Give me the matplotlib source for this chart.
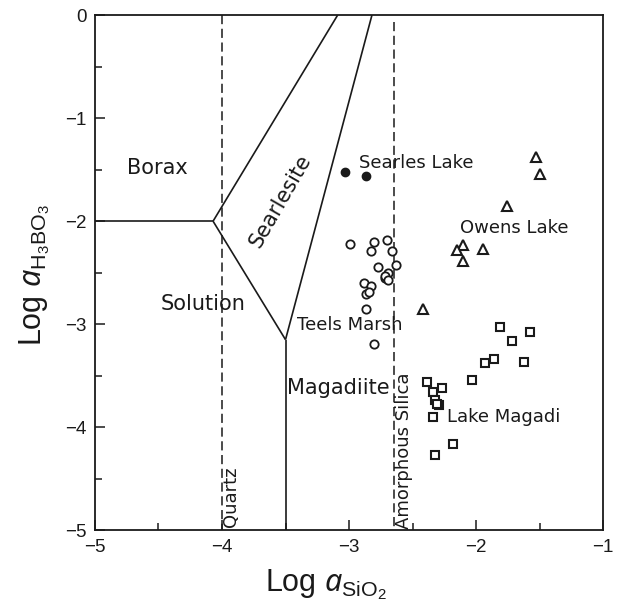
import matplotlib.pyplot as plt
from matplotlib.ticker import MultipleLocator

plt.rcParams['font.family'] = ['Liberation Sans', 'DejaVu Sans']
plt.rcParams['mathtext.fontset'] = 'custom'
plt.rcParams['mathtext.rm'] = 'Liberation Sans'
plt.rcParams['mathtext.it'] = 'Noto Sans:italic'

INK = '#1a1a1a'
LABEL_FONT = 'DejaVu Sans'

# --- phase boundaries (log aSiO2, log aH3BO3) ---
borax_x = [-5.0, -4.07]
borax_y = [-2.0, -2.0]
searl_left_x = [-4.07, -3.09]
searl_left_y = [-2.0, 0.0]
searl_right_x = [-2.82, -3.5]
searl_right_y = [0.0, -3.15]
sol_x = [-4.07, -3.5]
sol_y = [-2.0, -3.15]
magad_x = [-3.5, -3.5]
magad_y = [-3.15, -5.0]
quartz_x = -4.0
amorph_x = -2.65

# --- brine samples ---
searles_x = [-3.03, -2.87]
searles_y = [-1.52, -1.56]

teels_x = [-2.99, -2.80, -2.83, -2.70, -2.66, -2.63, -2.77, -2.69, -2.72,
           -2.72, -2.69, -2.88, -2.83, -2.87, -2.84, -2.87, -2.80]
teels_y = [-2.22, -2.20, -2.29, -2.18, -2.29, -2.43, -2.44, -2.50, -2.55,
           -2.53, -2.57, -2.60, -2.63, -2.71, -2.69, -2.85, -3.19]

owens_x = [-1.53, -1.50, -1.76, -2.10, -2.15, -1.95, -2.10, -2.42]
owens_y = [-1.38, -1.54, -1.85, -2.23, -2.28, -2.27, -2.39, -2.85]

magadi_x = [-1.81, -1.58, -1.72, -1.86, -1.93, -1.62, -2.03, -2.39, -2.27,
            -2.34, -2.32, -2.29, -2.31, -2.34, -2.18, -2.32]
magadi_y = [-3.03, -3.08, -3.16, -3.34, -3.38, -3.37, -3.54, -3.56, -3.62,
            -3.66, -3.74, -3.78, -3.77, -3.90, -4.16, -4.27]

fig = plt.figure(figsize=(6.2, 6.06), dpi=100)
ax = fig.add_axes([0.153, 0.125, 0.820, 0.850])

lw = 1.2
for xs, ys in [(borax_x, borax_y), (searl_left_x, searl_left_y),
               (searl_right_x, searl_right_y), (sol_x, sol_y), (magad_x, magad_y)]:
    ax.plot(xs, ys, color=INK, lw=lw, solid_capstyle='butt')

ax.plot([quartz_x, quartz_x], [0, -5], color=INK, lw=1.1, dashes=(6, 3))
ax.plot([amorph_x, amorph_x], [-0.07, -5], color=INK, lw=1.1, dashes=(6, 3))

ax.plot(searles_x, searles_y, 'o', ms=6, color=INK, mec=INK)
ax.plot(teels_x, teels_y, 'o', ms=6, mfc='white', mec=INK, mew=1.3)
ax.plot(owens_x, owens_y, '^', ms=7.5, mfc='white', mec=INK, mew=1.5)
ax.plot(magadi_x, magadi_y, 's', ms=6, mfc='white', mec=INK, mew=1.5)

# region names
reg = dict(fontsize=15, color=INK, family=LABEL_FONT, va='center')
ax.text(-4.51, -1.48, 'Borax', ha='center', **reg)
ax.text(-4.15, -2.80, 'Solution', ha='center', **reg)
ax.text(-3.49, -3.62, 'Magadiite', ha='left', **reg)
ax.text(-3.54, -1.80, 'Searlesite', ha='center', rotation=60,
        rotation_mode='anchor', **reg)

# lake names
lake = dict(fontsize=13, color=INK, family=LABEL_FONT, va='center', ha='left')
ax.text(-2.92, -1.44, 'Searles Lake', **lake)
ax.text(-2.13, -2.07, 'Owens Lake', **lake)
ax.text(-3.41, -3.01, 'Teels Marsh', **lake)
ax.text(-2.23, -3.90, 'Lake Magadi', **lake)

# silica saturation lines
sil = dict(fontsize=13, color=INK, family=LABEL_FONT, rotation=90, ha='center', va='bottom')
ax.text(-3.93, -4.97, 'Quartz', **sil)
ax.text(-2.57, -4.99, 'Amorphous Silica', **sil)

ax.set_xlim(-5, -1)
ax.set_ylim(-5, 0)
ax.xaxis.set_major_locator(MultipleLocator(1))
ax.xaxis.set_minor_locator(MultipleLocator(0.5))
ax.yaxis.set_major_locator(MultipleLocator(1))
ax.yaxis.set_minor_locator(MultipleLocator(0.5))
ax.tick_params(which='both', direction='in', color=INK, width=1.1, labelsize=13.5,
               labelcolor=INK)
ax.tick_params(which='major', length=7, pad=6)
ax.tick_params(which='minor', length=5)
for s in ax.spines.values():
    s.set_linewidth(1.3)
    s.set_color(INK)

ax.set_xlabel(r'Log $\mathit{a}_{\mathrm{SiO_2}}$', fontsize=22, color=INK)
ax.set_ylabel(r'Log $\mathit{a}_{\mathrm{H_3BO_3}}$', fontsize=22, color=INK)
ax.xaxis.set_label_coords(0.455, -0.072)
ax.yaxis.set_label_coords(-0.085, 0.495)

fig.savefig('out.png', dpi=100, facecolor='white')
